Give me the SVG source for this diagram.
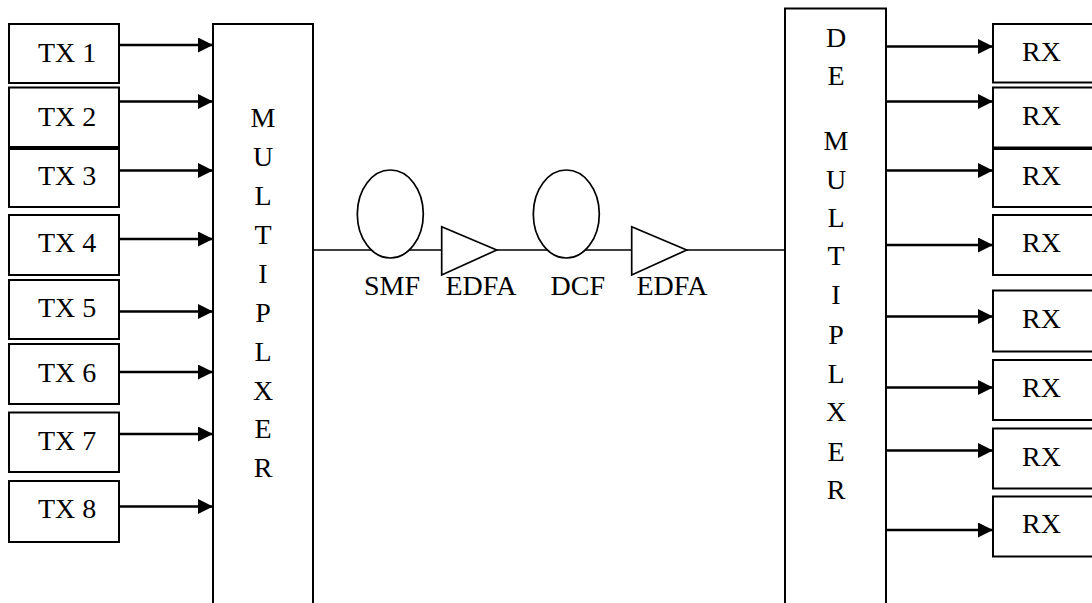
<svg xmlns="http://www.w3.org/2000/svg" width="1092" height="603" viewBox="0 0 1092 603">
<style>
.box{fill:#fff;stroke:#000;stroke-width:2}
.shape{fill:#fff;stroke:#000;stroke-width:1.7}
.arr{stroke:#000;stroke-width:2.3;fill:none}
.fib{stroke:#000;stroke-width:1.6;fill:none}
text{font-family:"Liberation Serif","Times New Roman",serif;font-size:28px;fill:#000}
.c{text-anchor:middle}
</style>
<defs>
<marker id="ah" markerUnits="userSpaceOnUse" markerWidth="16" markerHeight="16" refX="15" refY="7.5" orient="auto">
<path d="M0,0 L15,7.5 L0,15 z" fill="#000"/>
</marker>
</defs>
<rect width="1092" height="603" fill="#fff"/>
<g id="connectors">
<line class="arr" x1="119" y1="45" x2="213" y2="45" marker-end="url(#ah)"/>
<line class="arr" x1="119" y1="101.5" x2="213" y2="101.5" marker-end="url(#ah)"/>
<line class="arr" x1="119" y1="170.5" x2="213" y2="170.5" marker-end="url(#ah)"/>
<line class="arr" x1="119" y1="239" x2="213" y2="239" marker-end="url(#ah)"/>
<line class="arr" x1="119" y1="311.5" x2="213" y2="311.5" marker-end="url(#ah)"/>
<line class="arr" x1="119" y1="372" x2="213" y2="372" marker-end="url(#ah)"/>
<line class="arr" x1="119" y1="434" x2="213" y2="434" marker-end="url(#ah)"/>
<line class="arr" x1="119" y1="506.5" x2="213" y2="506.5" marker-end="url(#ah)"/>
<line class="fib" x1="313" y1="250" x2="785" y2="250"/>
<line class="arr" x1="886" y1="46.5" x2="993" y2="46.5" marker-end="url(#ah)"/>
<line class="arr" x1="886" y1="101.5" x2="993" y2="101.5" marker-end="url(#ah)"/>
<line class="arr" x1="886" y1="170.5" x2="993" y2="170.5" marker-end="url(#ah)"/>
<line class="arr" x1="886" y1="245" x2="993" y2="245" marker-end="url(#ah)"/>
<line class="arr" x1="886" y1="316.5" x2="993" y2="316.5" marker-end="url(#ah)"/>
<line class="arr" x1="886" y1="387.5" x2="993" y2="387.5" marker-end="url(#ah)"/>
<line class="arr" x1="886" y1="450.5" x2="993" y2="450.5" marker-end="url(#ah)"/>
<line class="arr" x1="886" y1="530" x2="993" y2="530" marker-end="url(#ah)"/>
</g>
<g id="tx1"><rect class="box" x="9" y="24" width="110" height="59"/><text x="38" y="62">TX 1</text></g>
<g id="tx2"><rect class="box" x="9" y="87.5" width="110" height="59.5"/><text x="38" y="125.5">TX 2</text></g>
<g id="tx3"><rect class="box" x="9" y="149" width="110" height="58"/><text x="38" y="185">TX 3</text></g>
<g id="tx4"><rect class="box" x="9" y="215" width="110" height="60"/><text x="38" y="251.5">TX 4</text></g>
<g id="tx5"><rect class="box" x="9" y="280" width="110" height="59"/><text x="38" y="316.5">TX 5</text></g>
<g id="tx6"><rect class="box" x="9" y="344" width="110" height="60"/><text x="38" y="381.5">TX 6</text></g>
<g id="tx7"><rect class="box" x="9" y="412.5" width="110" height="59.5"/><text x="38" y="450">TX 7</text></g>
<g id="tx8"><rect class="box" x="9" y="481" width="110" height="61"/><text x="38" y="518">TX 8</text></g>
<g id="mux">
<rect class="box" x="213" y="24" width="100" height="600"/>
<text class="c" x="263" y="127">M</text>
<text class="c" x="263" y="166">U</text>
<text class="c" x="263" y="205">L</text>
<text class="c" x="263" y="244">T</text>
<text class="c" x="263" y="283">I</text>
<text class="c" x="263" y="322">P</text>
<text class="c" x="263" y="361">L</text>
<text class="c" x="263" y="400">X</text>
<text class="c" x="263" y="438">E</text>
<text class="c" x="263" y="477">R</text>
</g>
<g id="smf"><ellipse class="shape" cx="390.3" cy="214" rx="33" ry="44"/><text x="364" y="295">SMF</text></g>
<g id="edfa1"><polygon class="shape" points="441.7,226.7 496.7,250 441.7,275"/><text x="445.5" y="295">EDFA</text></g>
<g id="dcf"><ellipse class="shape" cx="566.3" cy="214" rx="33" ry="44"/><text x="550.5" y="295">DCF</text></g>
<g id="edfa2"><polygon class="shape" points="631.7,226.7 686.7,250 631.7,275"/><text x="636.5" y="295">EDFA</text></g>
<g id="demux">
<rect class="box" x="785" y="8.5" width="101" height="620"/>
<text class="c" x="836" y="47">D</text>
<text class="c" x="836" y="85">E</text>
<text class="c" x="836" y="150">M</text>
<text class="c" x="836" y="188.5">U</text>
<text class="c" x="836" y="227">L</text>
<text class="c" x="836" y="265">T</text>
<text class="c" x="836" y="303.5">I</text>
<text class="c" x="836" y="344">P</text>
<text class="c" x="836" y="383">L</text>
<text class="c" x="836" y="421">X</text>
<text class="c" x="836" y="461">E</text>
<text class="c" x="836" y="499">R</text>
</g>
<g id="rx1"><rect class="box" x="993" y="24" width="110" height="58.5"/><text x="1022" y="61">RX</text></g>
<g id="rx2"><rect class="box" x="993" y="87.5" width="110" height="60"/><text x="1022" y="125">RX</text></g>
<g id="rx3"><rect class="box" x="993" y="149" width="110" height="58"/><text x="1022" y="185">RX</text></g>
<g id="rx4"><rect class="box" x="993" y="215" width="110" height="60"/><text x="1022" y="251.5">RX</text></g>
<g id="rx5"><rect class="box" x="993" y="290.5" width="110" height="61"/><text x="1022" y="328">RX</text></g>
<g id="rx6"><rect class="box" x="993" y="360" width="110" height="60"/><text x="1022" y="396.5">RX</text></g>
<g id="rx7"><rect class="box" x="993" y="428.5" width="110" height="60"/><text x="1022" y="465.5">RX</text></g>
<g id="rx8"><rect class="box" x="993" y="496.5" width="110" height="60"/><text x="1022" y="533">RX</text></g>
</svg>
